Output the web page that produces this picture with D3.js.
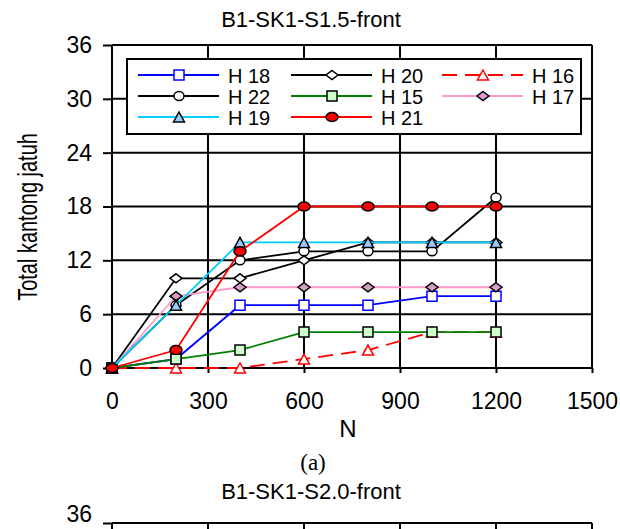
<!DOCTYPE html>
<html lang="en">
<head>
<meta charset="UTF-8">
<title>B1-SK1-S1.5-front</title>
<script src="https://d3js.org/d3.v7.min.js"></script>
<style>
  body { margin: 0; background: #fff; }
  text { font-family: "Liberation Sans", Arial, sans-serif; fill: #000; }
</style>
</head>
<body>
<svg id="chart" width="620" height="529"></svg>
<script>
// data
const nValues = [0, 200, 400, 600, 800, 1000, 1200];
const seriesNames = ["H 18", "H 20", "H 16", "H 22", "H 15", "H 17", "H 19", "H 21"];
const h18 = [0, 1, 7, 7, 7, 8, 8];
const h20 = [0, 10, 10, 12, 14, 14, 14];
const h16 = [0, 0, 0, 1, 2, 4, 4];
const h22 = [0, 7, 12, 13, 13, 13, 19];
const h15 = [0, 1, 2, 4, 4, 4, 4];
const h17 = [0, 8, 9, 9, 9, 9, 9];
const h19 = [0, 7, 14, 14, 14, 14, 14];
const h21 = [0, 2, 13, 18, 18, 18, 18];
const xTicks = [0, 300, 600, 900, 1200, 1500];
const yTicks = [0, 6, 12, 18, 24, 30, 36];

const seriesValues = [h18, h20, h16, h22, h15, h17, h19, h21];

// look of each series
const styles = {
  "H 18": {line: "#0000ff", dash: null, shape: "square", fill: "#ffffff", stroke: "#0000ff", w: 10, h: 10},
  "H 20": {line: "#000000", dash: null, shape: "diamond", fill: "#ffffff", stroke: "#000000", w: 12, h: 9},
  "H 16": {line: "#ff0000", dash: "15,8", shape: "triangle", fill: "#ffffff", stroke: "#ff0000", w: 11, h: 10},
  "H 22": {line: "#000000", dash: null, shape: "circle", fill: "#ffffff", stroke: "#000000", w: 10, h: 9},
  "H 15": {line: "#008000", dash: null, shape: "square", fill: "#ccffcc", stroke: "#000000", w: 10, h: 10},
  "H 17": {line: "#ff99cc", dash: null, shape: "diamond", fill: "#dd99cc", stroke: "#000000", w: 12, h: 9},
  "H 19": {line: "#00ccff", dash: null, shape: "triangle", fill: "#99ccff", stroke: "#000000", w: 11, h: 10},
  "H 21": {line: "#ff0000", dash: null, shape: "circle", fill: "#ff0000", stroke: "#000000", w: 12, h: 9}
};

function markerPath(shape, w, h) {
  const a = w / 2, b = h / 2;
  if (shape === "square") return `M${-a},${-b}H${a}V${b}H${-a}Z`;
  if (shape === "diamond") return `M0,${-b}L${a},0L0,${b}L${-a},0Z`;
  if (shape === "triangle") return `M0,${-b}L${a},${b}L${-a},${b}Z`;
  return `M${-a},0A${a},${b} 0 1 0 ${a},0A${a},${b} 0 1 0 ${-a},0Z`;
}

const svg = d3.select("#chart");
const plot = {left: 112, right: 592, top: 45, bottom: 368};

const x = d3.scaleLinear().domain([0, 1500]).range([plot.left, plot.right]);
const y = d3.scaleLinear().domain([0, 36]).range([plot.bottom, plot.top]);

svg.append("text")
  .attr("x", 311).attr("y", 27)
  .attr("text-anchor", "middle")
  .attr("font-size", 22)
  .text("B1-SK1-S1.5-front");

// grid
svg.append("g").selectAll("line").data(yTicks).join("line")
  .attr("x1", plot.left).attr("x2", plot.right)
  .attr("y1", d => y(d)).attr("y2", d => y(d))
  .attr("stroke", "#000").attr("stroke-width", 2);
svg.append("g").selectAll("line").data(xTicks).join("line")
  .attr("y1", plot.top).attr("y2", plot.bottom)
  .attr("x1", d => x(d)).attr("x2", d => x(d))
  .attr("stroke", "#000").attr("stroke-width", 2);

// axes
const yAxis = svg.append("g")
  .attr("transform", `translate(${plot.left},0)`)
  .call(d3.axisLeft(y).tickValues(yTicks).tickSize(9).tickPadding(11).tickFormat(d3.format("d")));
const xAxis = svg.append("g")
  .attr("transform", `translate(0,${plot.bottom})`)
  .call(d3.axisBottom(x).tickValues(xTicks).tickSize(5).tickPadding(20).tickFormat(d3.format("d")));
[yAxis, xAxis].forEach(ax => {
  ax.select(".domain").remove();
  ax.selectAll("line").attr("stroke", "#000").attr("stroke-width", 2);
  ax.selectAll("text").attr("font-size", 23).attr("font-family", "Liberation Sans, Arial, sans-serif");
});

svg.append("text")
  .attr("transform", "translate(37,217) rotate(-90) scale(0.74,1)")
  .attr("text-anchor", "middle")
  .attr("font-size", 27)
  .text("Total kantong jatuh");

svg.append("text")
  .attr("x", 348).attr("y", 437)
  .attr("text-anchor", "middle")
  .attr("font-size", 24)
  .text("N");

svg.append("text")
  .attr("x", 313).attr("y", 470)
  .attr("text-anchor", "middle")
  .attr("font-size", 23)
  .style("font-family", "Liberation Serif, Times New Roman, serif")
  .text("(a)");

// series
const line = d3.line().x((d, i) => x(nValues[i])).y(d => y(d));
seriesNames.forEach((name, k) => {
  const s = styles[name];
  const vals = seriesValues[k];
  const g = svg.append("g");
  g.append("path")
    .attr("d", line(vals))
    .attr("fill", "none")
    .attr("stroke", s.line)
    .attr("stroke-width", 1.8)
    .attr("stroke-dasharray", s.dash);
  g.selectAll("path.mk").data(vals).join("path")
    .attr("class", "mk")
    .attr("transform", (d, i) => `translate(${x(nValues[i])},${y(d)})`)
    .attr("d", markerPath(s.shape, s.w, s.h))
    .attr("fill", s.fill)
    .attr("stroke", s.stroke)
    .attr("stroke-width", 1.5);
});

// legend
const legend = svg.append("g");
legend.append("rect")
  .attr("x", 127).attr("y", 59).attr("width", 454).attr("height", 75)
  .attr("fill", "#fff").attr("stroke", "#000").attr("stroke-width", 2);
const colX = [138, 291, 442];
const rowY = [75, 96, 117];
seriesNames.forEach((name, k) => {
  const s = styles[name];
  const lx = colX[k % 3], ly = rowY[Math.floor(k / 3)];
  legend.append("line")
    .attr("x1", lx).attr("x2", lx + 81).attr("y1", ly).attr("y2", ly)
    .attr("stroke", s.line).attr("stroke-width", 1.8)
    .attr("stroke-dasharray", s.dash);
  legend.append("path")
    .attr("transform", `translate(${lx + 41},${ly})`)
    .attr("d", markerPath(s.shape, s.w, s.h))
    .attr("fill", s.fill).attr("stroke", s.stroke).attr("stroke-width", 1.5);
  legend.append("text")
    .attr("x", lx + 90).attr("y", ly + 7.5)
    .attr("font-size", 20)
    .text(name);
});

// start of the next panel (b), only its top edge is in view
const top2 = 523;
const y2 = d3.scaleLinear().domain([0, 36]).range([top2 + 323, top2]);
svg.append("text")
  .attr("x", 311).attr("y", 499)
  .attr("text-anchor", "middle")
  .attr("font-size", 22)
  .text("B1-SK1-S2.0-front");
const g2 = svg.append("g");
g2.selectAll("line.h").data(yTicks).join("line")
  .attr("class", "h")
  .attr("x1", plot.left).attr("x2", plot.right)
  .attr("y1", d => y2(d)).attr("y2", d => y2(d))
  .attr("stroke", "#000").attr("stroke-width", 2);
g2.selectAll("line.v").data(xTicks).join("line")
  .attr("class", "v")
  .attr("y1", top2).attr("y2", top2 + 323)
  .attr("x1", d => x(d)).attr("x2", d => x(d))
  .attr("stroke", "#000").attr("stroke-width", 2);
const visibleTicks2 = yTicks.filter(d => y2(d) < 529);
const yAxis2 = svg.append("g")
  .attr("transform", `translate(${plot.left},0)`)
  .call(d3.axisLeft(y2).tickValues(visibleTicks2).tickSize(9).tickPadding(11));
yAxis2.select(".domain").remove();
yAxis2.selectAll("line").attr("stroke", "#000").attr("stroke-width", 2);
yAxis2.selectAll("text")
  .attr("font-size", 23)
  .attr("font-family", "Liberation Sans, Arial, sans-serif")
  .attr("dy", -2);
</script>
</body>
</html>
